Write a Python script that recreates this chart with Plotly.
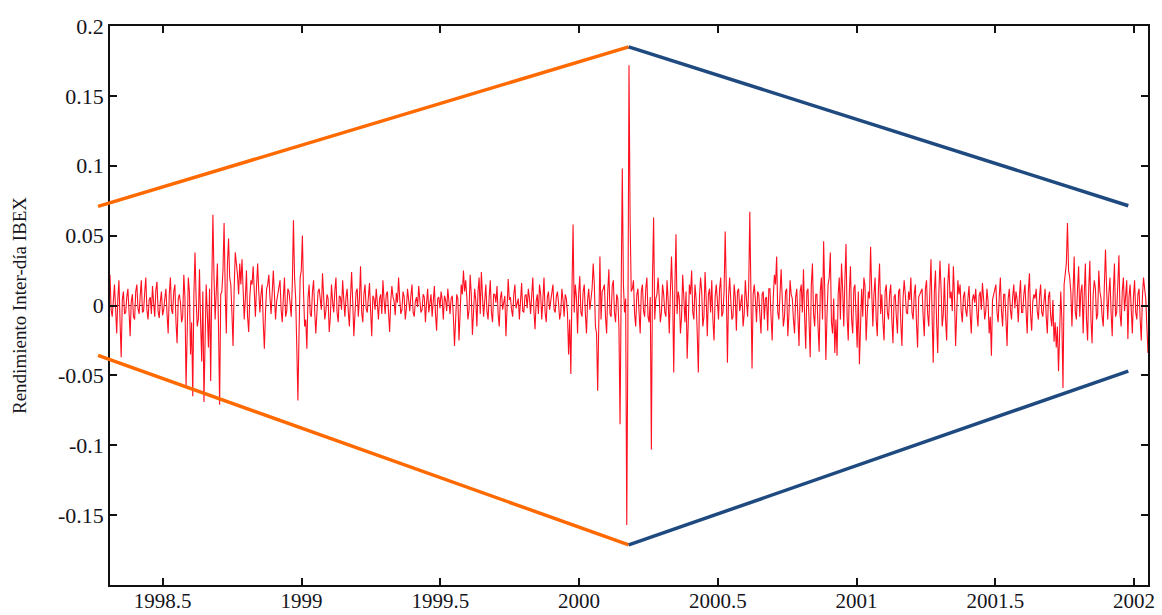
import plotly.graph_objects as go

# ---- data -------------------------------------------------------------
# IBEX intra-day returns, in thousandths.
# ret_milli: every other trading day; ret_milli_mid: the trading days in between.
ret_milli = [
    22, -8, 15, -20, 18, -37, 10,
    -5, 12, -22, 8, -10, 15, -6, 18,
    -4, 20, -10, 6, 14, -8, 17, -9, 10, -3,
    12, -20, 20, -6, 15, -27, 8, -12, 22,
    -58, 20, -35, -65, 38, -15,
    26, -40, -69, 15, -30,
    -54, 65, -10,
    30, -71, 10, 59, -20,
    48, 15, -29, 38, 22, 30,
    33, -10, 25, -19, 18, 28, -8,
    30, -5, 15, -31, 12, 22, -6,
    25, -10, 8, 18, -12, 20, -4, 10,
    -8, 61, 5,
    -68, 20, 50, -15,
    -31, 15, -8, 18, -20, 10, 2,
    23, -10, 8, -19, 15, -5, 20, -12, 6, 18, -8, 12, -15,
    24, -22, 10, -8, 28, -12, 15, -5,
    16, -22, 5, 12, -10, 8, 18, -6, 10, -19, 14, 3, 9,
    20, -6, 10, -10, 12, -4, 15, -8, 6,
    14, -5, 8, -12, 12, 2, -8, 14, -18, 6, 10, -10, 4, 12, -6, 7,
    -29, 8, -25, 15, 25,
    18, -10, 22, -21, 12, -15, 20, 24, -8,
    15, -10, 18, -12, 8, 14, -15, 10, 3, -22,
    19, 6, -8, 15, 2, -10, 16, -5, 8,
    12, -6, 20, -17, 8, 15, -10, 20, -12, 10, 2,
    15, -5, 10, -10, 12, -8, 5,
    -35, -49, 58, 15, -20,
    21, -8, 15, -20, 12, 5,
    30, -15, -61, 35, 10,
    15, -20, 26, -8, 18, -12, 5,
    -85, 98,
    -5,
    -157, 172, 10,
    18, -15, 12, -20, 15, -8, 20, -12,
    -103, 63, 5,
    20, -12, 15, -5, 18, -20,
    35, -48, 51,
    10, -20, 22, -12, -38, 15, 25, -10, 5, -48, 20, -15, 24,
    -22, 12, 18, -25, 15, -10, 20, -5,
    53, -41,
    20, -10, 15, -18, 12, 5, -15, 18, -8,
    67, -45,
    15, -12, 8, -20, 10, 5, -18, 12, -25, 22, 35, -10,
    26, -15, 10, -22, 18, 5, -20, 12, -29, 15,
    26, -31, 12, -37, 30, -15, 8, -33, 20,
    46, -39, 15, 38, -20, -34,
    -36, 20, 30, -15, 44, -25,
    28, -20, 15, -30, -42, 12, 20, -25, 10,
    42,
    -15, 20, -22, 30, 8, -25, 15, -10,
    15, -27, 8, -20, 12, -29, 18, -5, 10,
    20, -10, 15, -30, 8, 12, -22, 18, -15,
    33,
    -41, 25, -34, 32, -15, 20, -25, 30, 10,
    28, -29, 18,
    15, -12, 10, -8, 14, -20, 8, 12, -15, 10,
    16, -10, 12, -20, -36, 8, 15, -12,
    20, -15, 8, -29, 12, -10, 15,
    10, -12, 18, -5, 15, -20, 23, -18, 8, 12, -10,
    15, -8, 12, -20, 10, -15, -26,
    -30, -47, 10, -59, 25, 59,
    20, -15, 35, -10, 28, 10, -20, 30, -25,
    32, -27, 18, -10, 25, 5, -15,
    40, -10, 20, -22, 30, -5,
    36, -15, 20, 10, -24, 15,
    -20, 18, -10, 12, -25, 20, 5, -34,
]
ret_milli_mid = [
    -3, 8, -2, 5, -12, 4, -6,
    6, -4, 3, -8, 10, -2, 7, -5,
    9, -3, 4, -6, 2, 11, -4, 3, -7, 5,
    -6, 8, -3, 10, -12, 5, 2, -8, 6,
    -20, 10, -12, 8, 5, -10,
    -12, 10, -25, -5, 12,
    15, 20, 10,
    -15, 8, 25, 10, 30,
    20, -5, 12, 30, 8, 15,
    12, 5, -8, 6, 15, 10, 14,
    10, 8, -12, -5, 15, 6, 9,
    8, 3, 15, -3, 6, -8, 12, 2,
    15, 20, -30,
    -20, 25, 10, -10,
    5, -6, 10, -4, -5, 12, -3,
    6, -4, 5, -8, 3, 10, -5, 7, -3, 4, 6, -4, 5,
    3, -6, 12, 5, -5, 8, -2, 6,
    -4, 7, -3, 2, 5, -6, 4, 8, -5, 3, 6, -7, 2,
    5, -3, 6, -2, 4, 7, -5, 3, -1,
    4, -3, 6, 2, -5, 8, 3, -6, 5, -2, 4, 7, -4, 3, 5, -8,
    -10, 5, -6, 8, 10,
    6, -3, 8, -5, 4, 10, -6, 7, 3,
    -4, 6, -5, 8, 2, -6, 5, -3, 7, -5,
    4, -3, 8, -2, 5, 6, -4, 7, -2,
    5, 7, -4, 3, -6, 8, 4, -5, 6, -3, 7,
    -3, 6, 2, -5, 4, 8, -6,
    -10, 10, -5, 6, 8,
    -5, 10, -6, 4, -3, 12,
    15, -20, 8, -10, 12,
    -8, 10, -6, 14, -5, 8, -15,
    10, 15,
    5,
    -20, 60, 12,
    -6, 8, -5, 10, -4, 12, -8, 6,
    20, -10, 8,
    6, -5, 8, -8, 4, 10,
    8, 12, -6,
    5, -8, 6, 10, -12, 8, -5, 15, -20, 6, 10, -8, 5,
    8, -5, -10, 6, 4, 12, -8, 10,
    12, 6,
    4, -8, 6, 10, -4, 8, -6, 5, 12,
    10, 8,
    4, 10, -6, 8, -10, 6, 12, -8, 6, 15, -5, 8,
    5, -8, 12, -6, 8, -10, 6, -8, 10, -5,
    -8, 10, -12, 15, -6, 8, -15, 10, -10,
    10, -8, 20, -12, 5, -10,
    8, -10, 12, 18, -8, 10,
    -10, 12, -8, 10, -15, -8, 14, -6, 5,
    10,
    8, -10, 12, -6, -12, 10, -5, 8,
    -10, 6, -8, 10, -12, 5, 8, -6, 4,
    -5, 8, -12, 6, 10, -8, 12, -6, 10,
    -8,
    10, -12, 8, 12, -6, -10, 15, 5, -4,
    6, -5, 8,
    -4, 6, -3, 5, -6, 4, 2, -5, 7, -3,
    5, -4, 3, -8, 4, 10, -5, 6,
    -4, 8, -10, 5, -3, 6, -2,
    4, 6, -5, 8, -4, 10, -6, 3, 5, -4, 6,
    -5, 3, -8, 6, -8, 4, -12,
    -15, -20, -10, 15, 30, 25,
    10, 15, -5, 12, -8, 15, 8, -10, 12,
    -10, 8, 12, -6, 10, -8, 15,
    12, 8, -5, 10, -8, 15,
    -6, 10, -4, 18, 6, -8,
    6, -5, 8, -10, 6, 12, -15,
]

# interleave the two readings into one daily series
daily_milli = []
for i, v in enumerate(ret_milli):
    daily_milli.append(v)
    if i < len(ret_milli_mid) and i < len(ret_milli) - 1:
        daily_milli.append(ret_milli_mid[i])
returns = [v / 1000 for v in daily_milli]

t_start, t_end = 1998.31, 2002.05          # first / last observation (years)
n = len(returns)
dates = [t_start + i * (t_end - t_start) / (n - 1) for i in range(n)]

# Diamond-shaped envelope drawn over the series
orange_x = [1998.267, 2000.179]
orange_up = [0.0709, 0.1851]
orange_lo = [-0.0357, -0.1713]
blue_x = [2000.179, 2001.979]
blue_up = [0.1851, 0.0714]
blue_lo = [-0.1713, -0.0469]

x_ticks = [1998.5, 1999, 1999.5, 2000, 2000.5, 2001, 2001.5, 2002]
x_tick_text = ["1998.5", "1999", "1999.5", "2000", "2000.5", "2001", "2001.5", "2002"]
y_ticks = [0.2, 0.15, 0.1, 0.05, 0, -0.05, -0.1, -0.15]
y_tick_text = ["0.2", "0.15", "0.1", "0.05", "0", "-0.05", "-0.1", "-0.15"]

X_RANGE = [1998.31, 2002.05]
Y_RANGE = [-0.2, 0.2]

# ---- figure -----------------------------------------------------------
fig = go.Figure()

fig.add_trace(go.Scatter(
    x=dates, y=returns, mode="lines",
    line=dict(color="#ff1020", width=1.1),
    hoverinfo="skip", showlegend=False,
))


def px(x):
    return (x - X_RANGE[0]) / (X_RANGE[1] - X_RANGE[0])


def py(y):
    return (y - Y_RANGE[0]) / (Y_RANGE[1] - Y_RANGE[0])


shapes = [
    dict(type="line", xref="x", yref="y", x0=X_RANGE[0], x1=X_RANGE[1], y0=0, y1=0,
         line=dict(color="#333333", width=1, dash="dot"), layer="below"),
]
for xs, ys, col in [(orange_x, orange_up, "#ff6a00"), (orange_x, orange_lo, "#ff6a00"),
                    (blue_x, blue_up, "#1f4a80"), (blue_x, blue_lo, "#1f4a80")]:
    shapes.append(dict(type="line", xref="paper", yref="paper",
                       x0=px(xs[0]), y0=py(ys[0]), x1=px(xs[1]), y1=py(ys[1]),
                       line=dict(color=col, width=3.5), layer="above"))

axis_common = dict(
    showline=True, linecolor="#111111", linewidth=1.6, mirror="ticks",
    ticks="inside", ticklen=7, tickwidth=1.5, tickcolor="#111111",
    showgrid=False, zeroline=False, automargin=False,
)

fig.update_layout(
    width=1162, height=615,
    margin=dict(l=110, r=14, t=26, b=30),
    paper_bgcolor="white", plot_bgcolor="white",
    shapes=shapes,
    xaxis=dict(range=X_RANGE, tickmode="array", tickvals=x_ticks, ticktext=x_tick_text,
               ticklabelstandoff=-4,
               tickfont=dict(family="Liberation Serif", size=21, color="#151520"),
               **axis_common),
    yaxis=dict(range=Y_RANGE, tickmode="array", tickvals=y_ticks, ticktext=y_tick_text,
               tickfont=dict(family="Liberation Serif", size=22, color="#151520"),
               title=dict(text="Rendimiento Inter-día IBEX", standoff=26,
                          font=dict(family="Liberation Serif", size=19, color="#151520")),
               **axis_common),
)

fig.write_html("out.html")
